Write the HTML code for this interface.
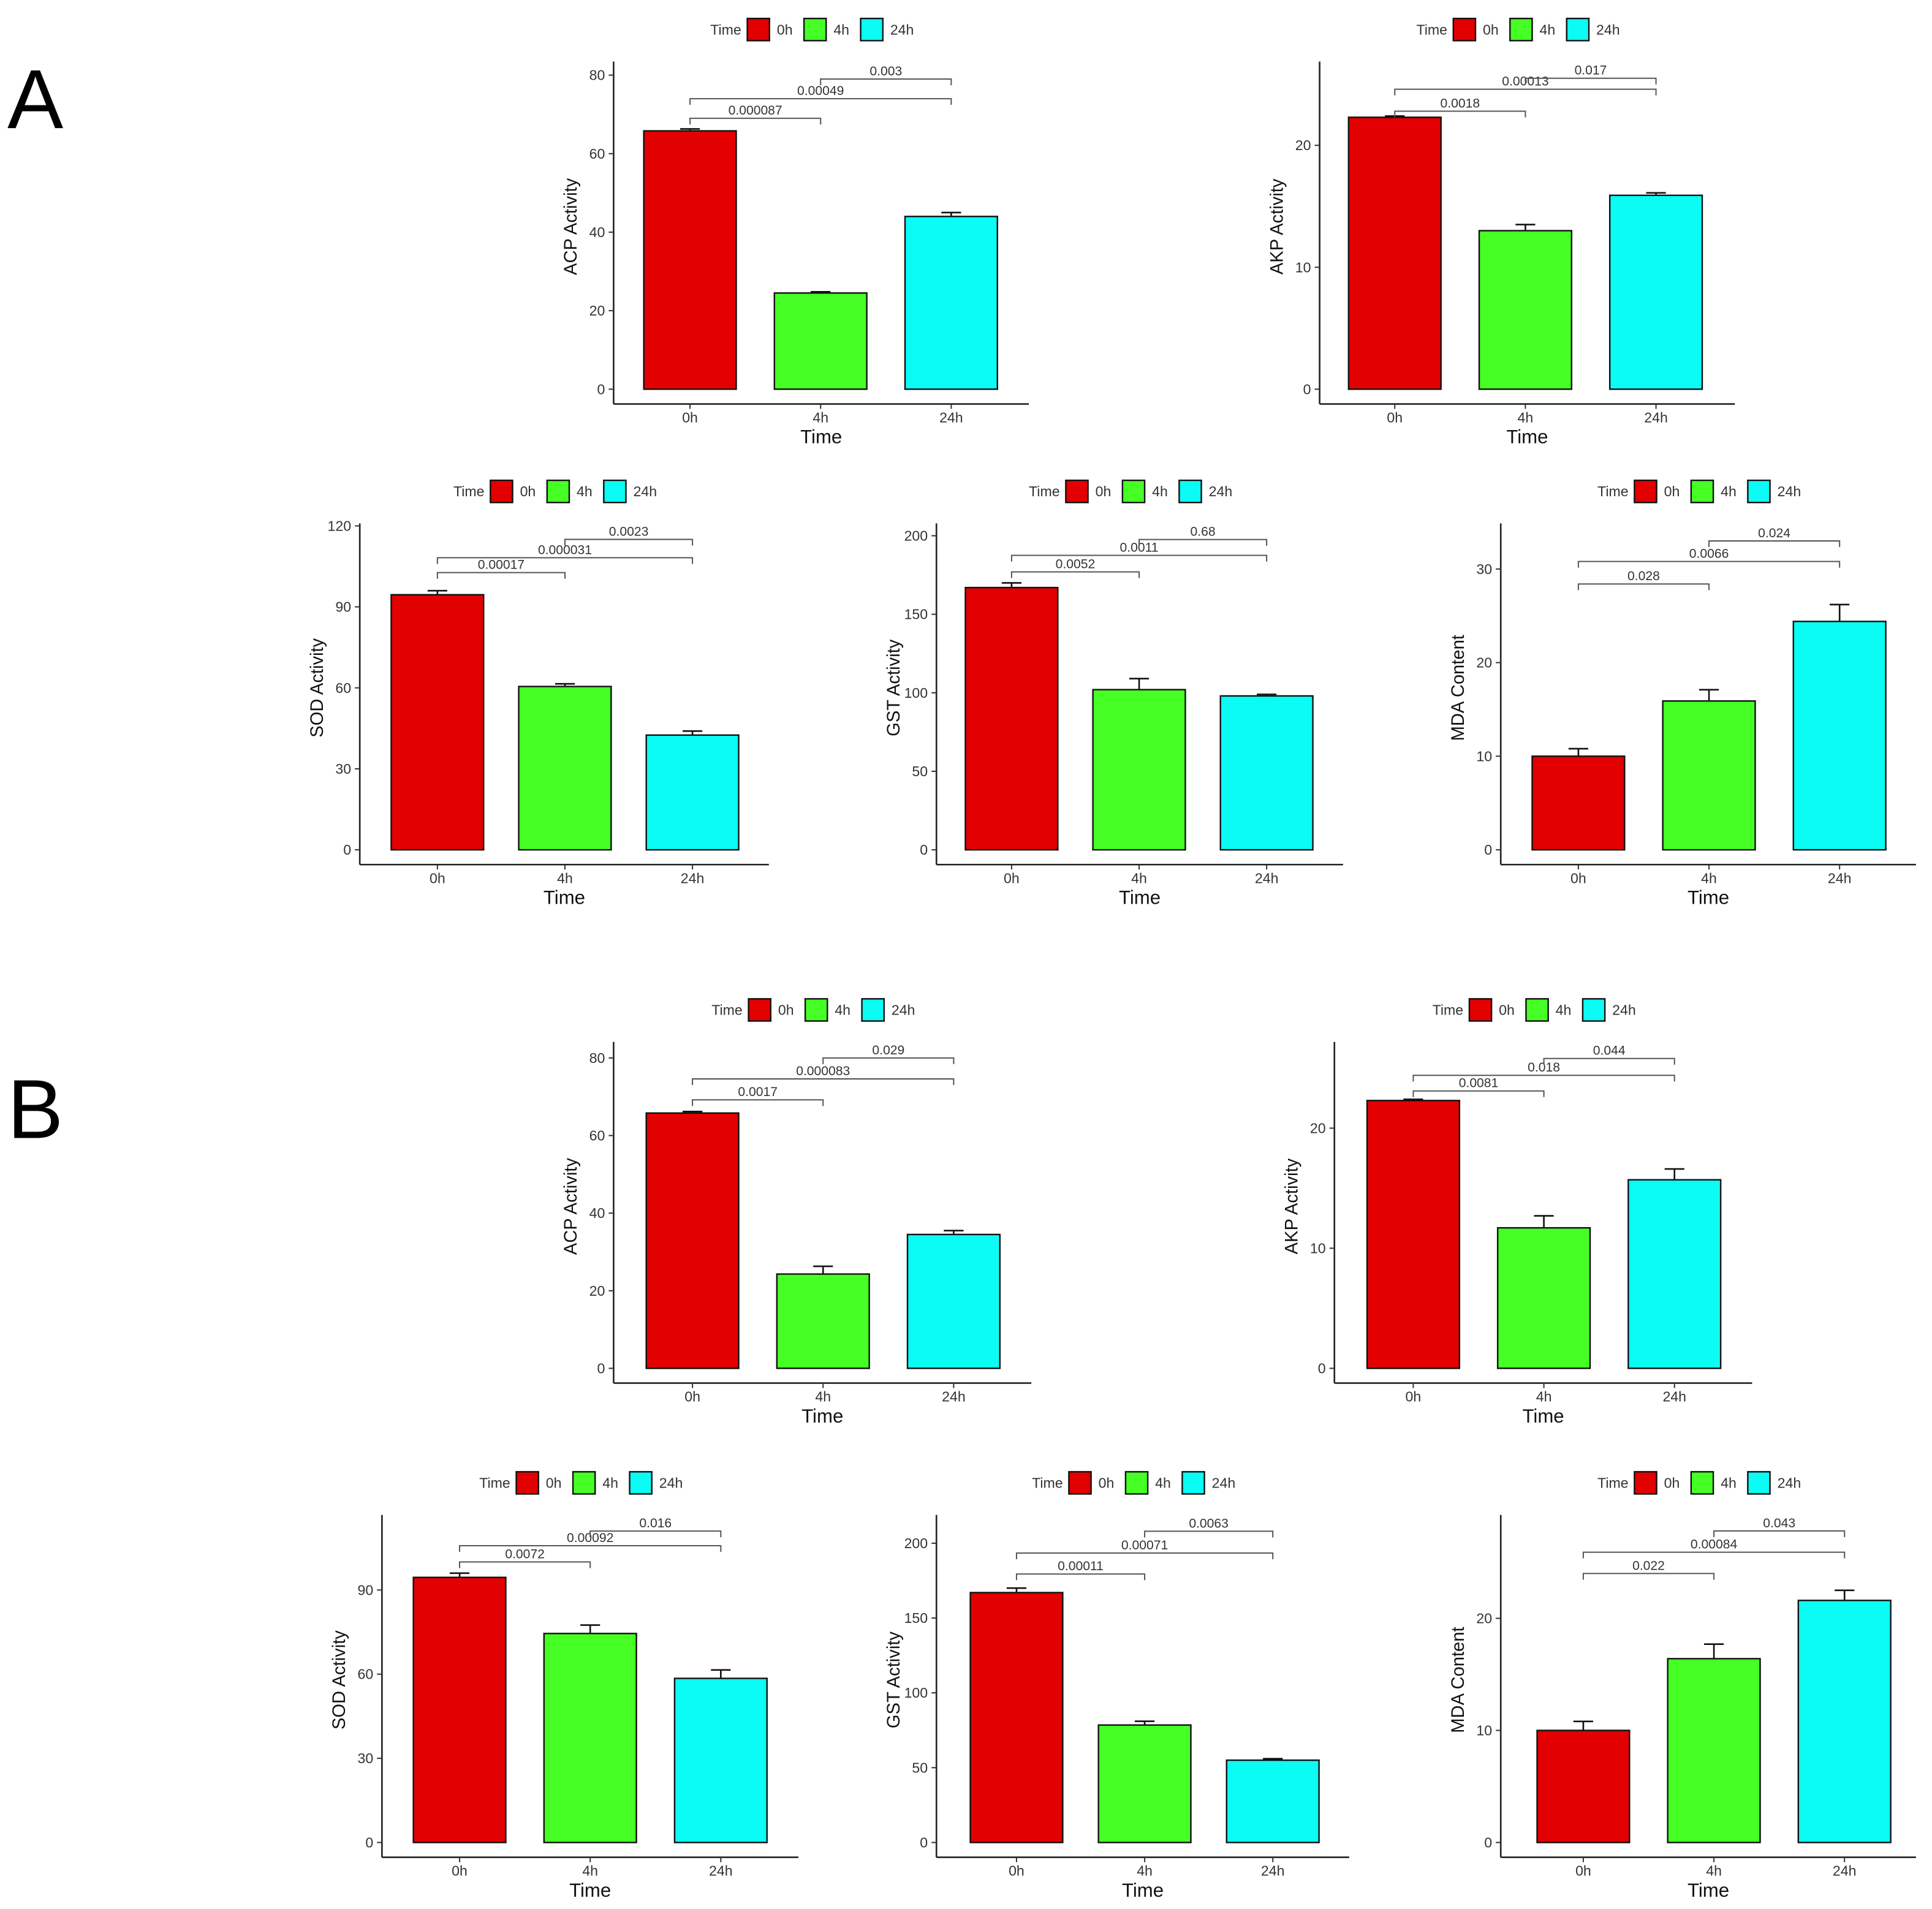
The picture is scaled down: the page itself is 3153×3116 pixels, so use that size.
<!DOCTYPE html>
<html><head><meta charset="utf-8"><style>
html,body{margin:0;padding:0;background:#fff;}
svg{display:block;font-family:"Liberation Sans",Arial,sans-serif;}
</style></head><body>
<svg id="fig" width="3153" height="3116" viewBox="0 0 1568 1550" preserveAspectRatio="none" xmlns="http://www.w3.org/2000/svg">
<rect width="1568" height="1550" fill="#fff"/>
<text x="6" y="104" font-size="68">A</text>
<text x="6" y="924" font-size="68">B</text>
</svg>
<script>
const categories = ["0h","4h","24h"];
const colors = ["#e30000","#45ff25","#0bfbf5"];
const titles = ["ACP Activity","AKP Activity","SOD Activity","GST Activity","MDA Content","ACP Activity","AKP Activity","SOD Activity","GST Activity","MDA Content"];
const means = [[65.8,24.5,44.0],[22.3,13.0,15.9],[94.5,60.5,42.5],[167,102,98],[10.0,15.9,24.4],
               [65.8,24.3,34.5],[22.3,11.7,15.7],[94.5,74.5,58.5],[167,78.5,55],[10.0,16.4,21.6]];
const errors = [[0.5,0.3,1.0],[0.1,0.5,0.2],[1.5,1.0,1.5],[3,7,1],[0.8,1.2,1.8],
                [0.4,2.0,1.0],[0.1,1.0,0.9],[1.5,3.0,3.0],[3,2.5,1],[0.8,1.3,0.9]];
const ticks = [[0,20,40,60,80],[0,10,20],[0,30,60,90,120],[0,50,100,150,200],[0,10,20,30],
               [0,20,40,60,80],[0,10,20],[0,30,60,90],[0,50,100,150,200],[0,10,20]];
const pLabels = [["0.000087","0.00049","0.003"],["0.0018","0.00013","0.017"],["0.00017","0.000031","0.0023"],["0.0052","0.0011","0.68"],["0.028","0.0066","0.024"],
                 ["0.0017","0.000083","0.029"],["0.0081","0.018","0.044"],["0.0072","0.00092","0.016"],["0.00011","0.00071","0.0063"],["0.022","0.00084","0.043"]];
const pHeights = [[69,74,79],[22.8,24.6,25.5],[102.7,108.2,115],[177,187.5,197.6],[28.4,30.8,33],
                  [69.2,74.6,80],[23.1,24.4,25.8],[100,105.8,111],[179.4,193.4,208],[24,25.9,27.8]];
const pPairs = [[0,1],[0,2],[1,2]];
const layout = [
 [498,835,316,80,61,50,328,560,106],
 [1071,1408,316,20,118,50,328,1132,106],
 [292,624,690,120,427,425,702,355,103.5],
 [760,1090,690,200,435,425,702,821,103.5],
 [1218,1555,690,30,462,425,702,1281,106],
 [498,837,1111,80,859,846,1123,562,106],
 [1083,1422,1111,20,916,846,1123,1147,106],
 [310,648,1496,90,1291,1230,1508,373,106],
 [760,1095,1496,200,1253,1230,1508,825,104],
 [1218,1555,1496,20,1314,1230,1508,1285,106]
];
const svg = document.getElementById('fig');
const NS = "http://www.w3.org/2000/svg";
function mk(tag, attrs, parent){const e=document.createElementNS(NS,tag);for(const k in attrs)e.setAttribute(k,attrs[k]);(parent||svg).appendChild(e);return e;}
for(let p=0;p<10;p++){
  const [ax,right,y0,rv,rp,top,bot,c0,step]=layout[p];
  const g=mk('g',{});
  
  
  const yS=v=>y0-(v/rv)*(y0-rp);
  const xS=i=>c0+i*step;
  const bw=75;
  const ya=mk('line',{x1:ax,y1:top,x2:ax,y2:bot,stroke:'#222','stroke-width':1.3},g);
  
  
  const xa=mk('line',{x1:ax,y1:bot,x2:right,y2:bot,stroke:'#222','stroke-width':1.3},g);
  
  
  ticks[p].forEach(t=>{
    const y=yS(t);
    mk('line',{x1:ax-4,y1:y,x2:ax,y2:y,stroke:'#333','stroke-width':1},g);
    const tl=mk('text',{x:ax-7,y:y+4,'font-size':11.5,'text-anchor':'end',fill:'#333'},g);
    tl.textContent=t;
    
    
  });
  categories.forEach((c,i)=>{
    const x=xS(i);
    mk('line',{x1:x,y1:bot,x2:x,y2:bot+4,stroke:'#333','stroke-width':1},g);
    const tl=mk('text',{x:x,y:bot+15,'font-size':11.5,'text-anchor':'middle',fill:'#333'},g);
    tl.textContent=c;
    
    
    const ey=yS(means[p][i]+errors[p][i]);
    mk('line',{x1:x,y1:yS(means[p][i]),x2:x,y2:ey,stroke:'#111','stroke-width':1.3},g);
    mk('line',{x1:x-8,y1:ey,x2:x+8,y2:ey,stroke:'#111','stroke-width':1.3},g);
    const b=mk('rect',{x:x-bw/2,y:yS(means[p][i]),width:bw,height:y0-yS(means[p][i]),fill:colors[i],stroke:'#111','stroke-width':1.2},g);
    
    
  });
  const xt=mk('text',{x:(ax+right)/2,y:bot+32,'font-size':15.5,'text-anchor':'middle',fill:'#111'},g);
  xt.textContent='Time';
  
  
  const cy=(top+bot)/2-5;
  const yt=mk('text',{x:ax-30,y:cy,'font-size':14.5,'text-anchor':'middle',fill:'#111',transform:`rotate(-90 ${ax-30} ${cy})`},g);
  yt.textContent=titles[p];
  
  
  pPairs.forEach((pr,k)=>{
    const y=yS(pHeights[p][k]);
    const xa1=xS(pr[0]),xb1=xS(pr[1]);
    const br=mk('path',{d:`M${xa1},${y+5}V${y}H${xb1}V${y+5}`,fill:'none',stroke:'#555','stroke-width':1},g);
    
    
    const lt=mk('text',{x:(xa1+xb1)/2,y:y-3,'font-size':10.5,'text-anchor':'middle',fill:'#333'},g);
    lt.textContent=pLabels[p][k];
    
    
  });
  const lg=mk('g',{},g);
  
  
  const lx=(ax+right)/2-90, ly=top-26;
  const ltit=mk('text',{x:lx,y:ly+4,'font-size':11.5,fill:'#333'},lg);
  ltit.textContent='Time';
  
  
  const offs=[30,76,122];
  categories.forEach((c,i)=>{
    const bx=lx+offs[i];
    const r=mk('rect',{x:bx,y:ly-9,width:18,height:18,fill:colors[i],stroke:'#111','stroke-width':1.2},lg);
    
    
    const t=mk('text',{x:bx+24,y:ly+4,'font-size':11.5,fill:'#333'},lg);
    t.textContent=c;
    
    
  });
}
</script>
</body></html>
